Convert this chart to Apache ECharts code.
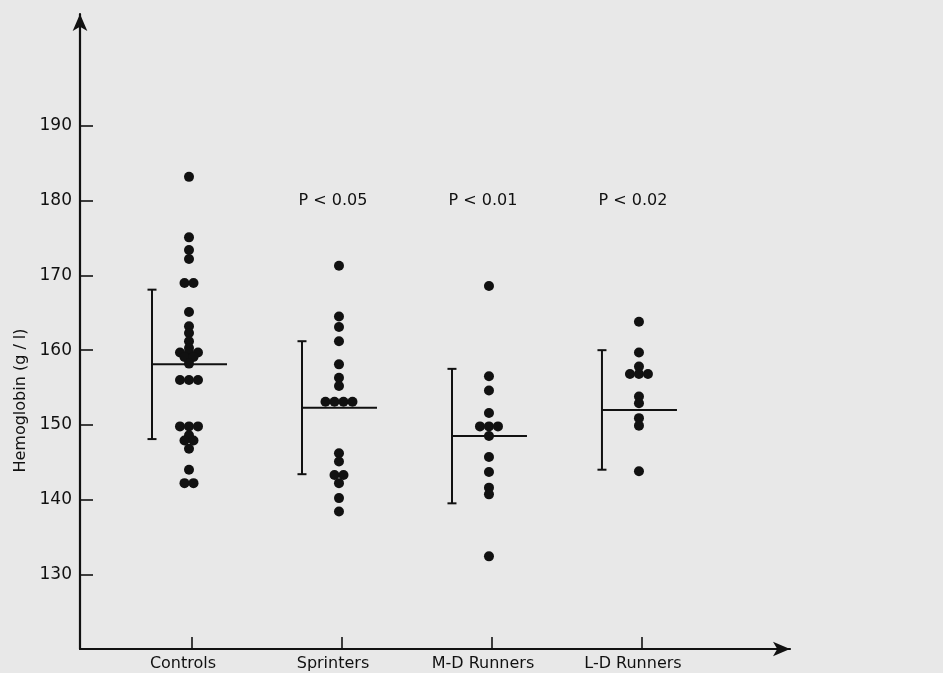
<!DOCTYPE html>
<html><head><meta charset="utf-8">
<script src="https://cdn.jsdelivr.net/npm/echarts@6/dist/echarts.min.js"></script>
<style>html,body{margin:0;padding:0;background:#e8e8e8}#c{width:943px;height:673px}</style>
</head><body><div id="c"></div>
<script>
const categories = ['Controls', 'Sprinters', 'M-D Runners', 'L-D Runners'];
const controls = [183.2, 175.1, 173.4, 172.2, 169, 169, 165.1, 163.2, 162.3, 161.2, 160.3, 159.7, 159.7, 159.7, 159.1, 159.1, 158.2, 156, 156, 156, 149.8, 149.8, 149.8, 148.6, 147.9, 147.9, 146.8, 144, 142.2, 142.2];
const sprinters = [171.3, 164.5, 163.1, 161.2, 158.1, 156.3, 155.2, 153.1, 153.1, 153.1, 153.1, 146.2, 145.1, 143.3, 143.3, 142.2, 140.2, 138.4];
const mdRunners = [168.6, 156.5, 154.6, 151.6, 149.8, 149.8, 149.8, 148.5, 145.7, 143.7, 141.6, 140.7, 132.4];
const ldRunners = [163.8, 159.7, 157.8, 156.8, 156.8, 156.8, 153.8, 152.9, 150.9, 149.9, 143.8];
const means = [158.1, 152.3, 148.5, 152.0];
const sds = [10.0, 8.9, 9.0, 8.0];
const pLabels = ['', 'P < 0.05', 'P < 0.01', 'P < 0.02'];
const pLevel = 180;
const yTicks = [130, 140, 150, 160, 170, 180, 190];

const groups = [controls, sprinters, mdRunners, ldRunners];
const UNIT = 150;
const DOT_GAP = 9 / UNIT;
const COL_SHIFT = -3 / UNIT;

function swarm(values, idx) {
  const counts = {};
  values.forEach(v => { counts[v] = (counts[v] || 0) + 1; });
  const seen = {};
  return values.map(v => {
    const n = counts[v];
    seen[v] = seen[v] === undefined ? 0 : seen[v] + 1;
    return [idx + COL_SHIFT + (seen[v] - (n - 1) / 2) * DOT_GAP, v];
  });
}
const dots = [];
groups.forEach((g, i) => swarm(g, i).forEach(p => dots.push(p)));

const ink = '#111';
const font = 'DejaVu Sans';
const chart = echarts.init(document.getElementById('c'));
chart.setOption({
  backgroundColor: '#e8e8e8',
  animation: false,
  grid: { left: 80, right: 153, top: 14, bottom: 24 },
  xAxis: {
    type: 'value', min: -0.7467, max: 3.987,
    splitLine: { show: false },
    axisLine: { show: true, onZero: false, symbol: ['none', 'arrow'], symbolSize: [11, 17], lineStyle: { color: ink, width: 2.2 } },
    axisTick: { show: true, inside: true, length: 12, customValues: [0, 1, 2, 3], lineStyle: { color: ink, width: 1.6 } },
    axisLabel: { customValues: [0, 1, 2, 3], formatter: v => categories[Math.round(v)], color: ink, fontFamily: font, fontSize: 16, margin: 7, padding: [0, 18, 0, 0] }
  },
  yAxis: {
    type: 'value', min: 120, max: 205,
    name: 'Hemoglobin (g / l)', nameLocation: 'middle', nameGap: 42,
    nameTextStyle: { color: ink, fontFamily: font, fontSize: 16, padding: [0, 138, 0, 0] },
    splitLine: { show: false },
    axisLine: { show: true, onZero: false, symbol: ['none', 'arrow'], symbolSize: [11, 17], lineStyle: { color: ink, width: 2.2 } },
    axisTick: { show: true, inside: true, length: 13, customValues: yTicks, lineStyle: { color: ink, width: 1.6 } },
    axisLabel: { customValues: yTicks, color: ink, fontFamily: font, fontSize: 17, margin: 8 }
  },
  series: [
    {
      type: 'custom',
      data: means.map((m, i) => [i, m, sds[i]]),
      renderItem(params, api) {
        const i = api.value(0), m = api.value(1), s = api.value(2);
        const c = api.coord([i, m]);
        const top = api.coord([i, m + s]);
        const bot = api.coord([i, m - s]);
        const bx = c[0] - 40;
        const style = { stroke: ink, lineWidth: 2 };
        return {
          type: 'group', children: [
            { type: 'line', shape: { x1: bx, y1: top[1], x2: bx, y2: bot[1] }, style },
            { type: 'line', shape: { x1: bx - 4.5, y1: top[1], x2: bx + 4.5, y2: top[1] }, style },
            { type: 'line', shape: { x1: bx - 4.5, y1: bot[1], x2: bx + 4.5, y2: bot[1] }, style },
            { type: 'line', shape: { x1: bx, y1: c[1], x2: c[0] + 35, y2: c[1] }, style }
          ]
        };
      },
      z: 3
    },
    {
      type: 'scatter',
      data: dots,
      symbol: 'circle',
      symbolSize: 10,
      itemStyle: { color: ink, opacity: 1 },
      z: 4
    },
    {
      type: 'custom',
      data: pLabels.map((t, i) => [i, pLevel, t]).filter(d => d[2]),
      renderItem(params, api) {
        const c = api.coord([api.value(0), api.value(1)]);
        return {
          type: 'text',
          x: c[0] - 9, y: c[1],
          style: { text: pLabels[api.value(0)], fill: ink, font: '16px "' + font + '"', align: 'center', verticalAlign: 'middle' }
        };
      },
      z: 5
    }
  ]
});
</script>
</body></html>
